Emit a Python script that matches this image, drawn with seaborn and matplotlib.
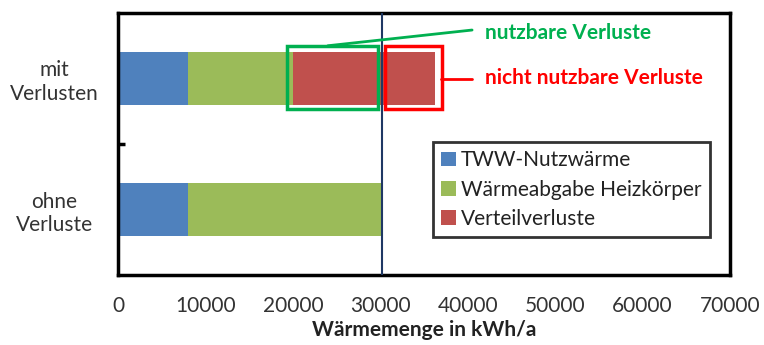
import matplotlib
matplotlib.use("Agg")
import matplotlib.pyplot as plt
from matplotlib.patches import Rectangle, Patch
from matplotlib.ticker import FixedLocator
import seaborn as sns
import pandas as pd

# Heat quantities in kWh/a
categories = ["mit\nVerlusten", "ohne\nVerluste"]
tww_nutzwaerme = [8000, 8000]
heizkoerper = [12000, 22200]
verteilverluste = [16300, 0]
series_names = ["TWW-Nutzwärme", "Wärmeabgabe Heizkörper", "Verteilverluste"]
colors = ["#4F81BD", "#9BBB59", "#C0504D"]
x_ticks = [0, 10000, 20000, 30000, 40000, 50000, 60000, 70000]

sns.set_theme(style="white")
plt.rcParams["font.family"] = ["Lato", "DejaVu Sans"]

df = pd.DataFrame({
    "Kategorie": categories,
    series_names[0]: tww_nutzwaerme,
    series_names[1]: heizkoerper,
    series_names[2]: verteilverluste,
})
cum = df[series_names].cumsum(axis=1).assign(Kategorie=df["Kategorie"])

fig = plt.figure(figsize=(7.64, 3.45), dpi=100)
ax = fig.add_axes([118 / 764, 1 - 275 / 345, 612 / 764, 262 / 345])

# stacked bars: draw cumulative totals from back to front
for name, col in reversed(list(zip(series_names, colors))):
    sns.barplot(data=cum, x=name, y="Kategorie", order=categories, color=col,
                width=0.4, orient="h", saturation=1, edgecolor="none", ax=ax)

ax.set_xlim(0, 70000)
ax.set_ylim(1.5, -0.5)
ax.set_xticks(x_ticks)
ax.set_xticklabels([str(t) for t in x_ticks], fontsize=15, color="#333333")
ax.tick_params(axis="x", direction="in", length=5, width=2.5, color="black", pad=15)
ax.set_yticks([0, 1])
ax.set_yticklabels(categories, fontsize=15, color="#333333", ha="center",
                   multialignment="center")
ax.tick_params(axis="y", which="major", length=0, pad=46)
ax.yaxis.set_minor_locator(FixedLocator([0.5]))
ax.tick_params(axis="y", which="minor", direction="in", length=5, width=2.5,
               color="black", left=True)
ax.set_xlabel("Wärmemenge in kWh/a", fontsize=15, fontweight="bold",
              color="#222222", labelpad=3)
ax.set_ylabel("")

for s in ax.spines.values():
    s.set_visible(True)
    s.set_color("black")
    s.set_linewidth(2.5)

# reference line at total heat without losses
total_ohne = tww_nutzwaerme[1] + heizkoerper[1] + verteilverluste[1]
ax.axvline(total_ohne, color="#1F3864", lw=1.5, zorder=5)

# highlight boxes around the distribution losses
start_loss = tww_nutzwaerme[0] + heizkoerper[0]
end_loss = start_loss + verteilverluste[0]
ax.add_patch(Rectangle((start_loss - 700, -0.25), total_ohne - start_loss + 200, 0.48,
                       fill=False, edgecolor="#00B050", lw=2.5, zorder=6))
ax.add_patch(Rectangle((total_ohne + 350, -0.25), end_loss - total_ohne + 450, 0.48,
                       fill=False, edgecolor="#FF0000", lw=2.5, zorder=6))
ax.plot([24000, 40500], [-0.25, -0.37], color="#00B050", lw=2, clip_on=False, zorder=6)
ax.plot([37000, 40500], [0.0, 0.0], color="#FF0000", lw=2, clip_on=False, zorder=6)
ax.text(42000, -0.35, "nutzbare Verluste", color="#00B050", fontsize=15,
        fontweight="bold", va="center", ha="left")
ax.text(42000, 0.0, "nicht nutzbare Verluste", color="#FF0000", fontsize=15,
        fontweight="bold", va="center", ha="left")

handles = [Patch(facecolor=c, edgecolor="none") for c in colors]
leg = ax.legend(handles, series_names, loc="upper left",
                bbox_to_anchor=((433 - 118) / 612, 1 - (142 - 13) / 262),
                fontsize=15, frameon=True, fancybox=False, handlelength=0.7,
                handleheight=0.7, handletextpad=0.25, labelspacing=0.45,
                borderpad=0.4, borderaxespad=0)
leg.get_frame().set_edgecolor("black")
leg.get_frame().set_linewidth(2)
for t in leg.get_texts():
    t.set_color("#222222")

fig.savefig("out.png", dpi=100)
